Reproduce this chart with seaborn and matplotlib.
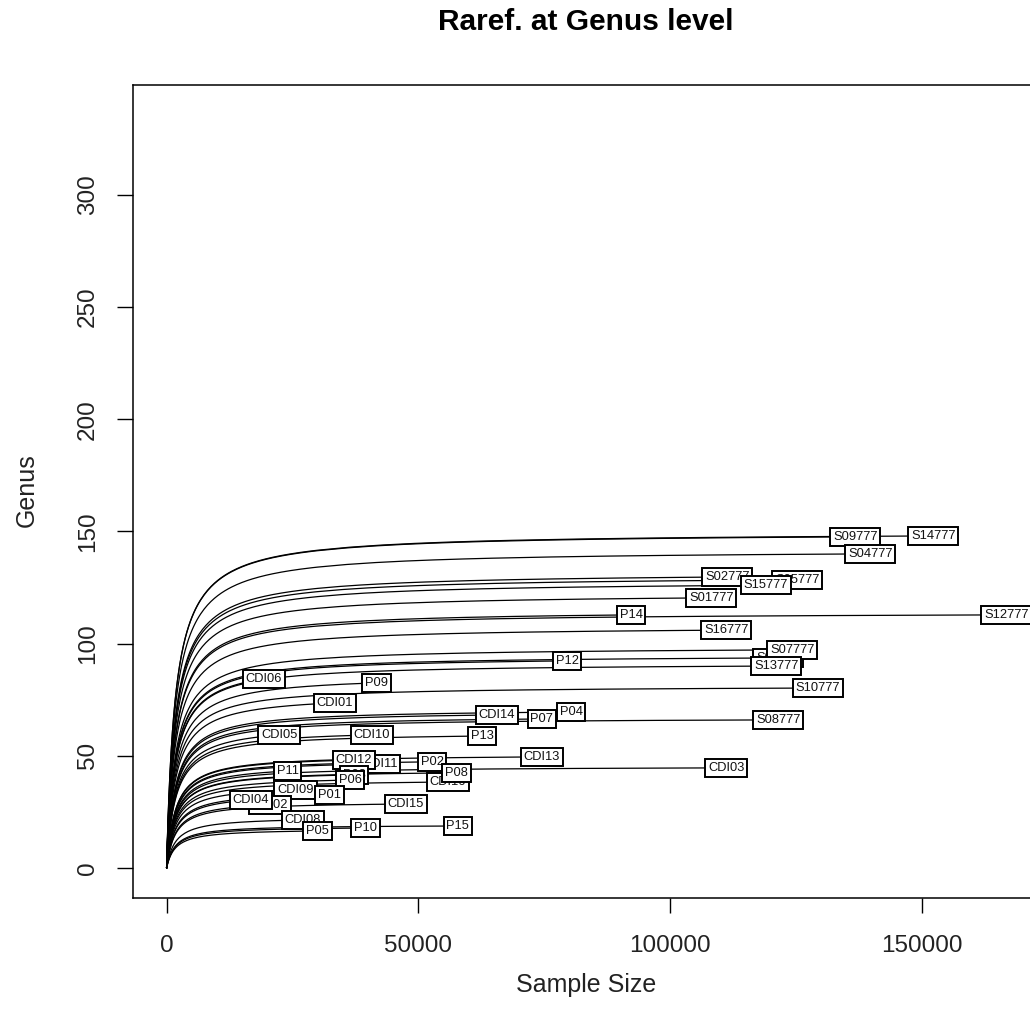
import numpy as np
import pandas as pd
import matplotlib
matplotlib.use("Agg")
import matplotlib.pyplot as plt
import seaborn as sns

samples = ["S03777", "S09777", "S14777", "S04777", "S05777", "S02777", "S15777", "S01777",
           "P14", "S12777", "S16777", "S07777", "P12", "S13777", "S10777", "S08777",
           "P07", "P04", "CDI06", "P09", "CDI01", "CDI14", "CDI05", "CDI10", "P13",
           "CDI11", "CDI12", "P02", "CDI13", "CDI16", "P08", "P03", "P11", "P06",
           "CDI09", "P01", "CDI02", "CDI04", "CDI15", "CDI08", "P05", "P10", "P15", "CDI03"]
totals = [121400, 136700, 152200, 139700, 125200, 111300, 119000, 108100,
          92200, 166700, 111100, 124200, 79500, 121000, 129300, 121400,
          74500, 80300, 19300, 41700, 33400, 65600, 22400, 40700, 62600,
          42300, 37200, 52700, 74500, 55800, 57600, 37200, 24000, 36400,
          25600, 32400, 20500, 16700, 47500, 27000, 30000, 39500, 57800, 111100]
richness = [93.6, 147.6, 148.0, 140.0, 128.4, 129.7, 126.0, 120.4,
            112.8, 112.8, 106.0, 97.2, 92.3, 90.0, 80.2, 66.0,
            66.4, 69.5, 84.3, 82.5, 73.6, 68.2, 59.3, 59.3, 58.8,
            46.4, 48.1, 47.3, 49.5, 38.3, 42.4, 41.5, 43.2, 39.2,
            34.8, 32.5, 28.1, 30.3, 28.5, 21.4, 16.5, 17.8, 18.7, 44.6]

x_ticks = [0, 50000, 100000, 150000]
y_ticks = [0, 50, 100, 150, 200, 250, 300]

# rarefaction-style curve from each end point (half-saturation sample size)
K = 1700.0
rows = []
for name, N, S in zip(samples, totals, richness):
    if N > 30000:
        n = np.concatenate([np.linspace(0, 3000, 60), np.linspace(3000, 30000, 80)[1:],
                            np.linspace(30000, N, 20)[1:]])
    else:
        n = np.concatenate([np.linspace(0, 3000, 60), np.linspace(3000, N, 80)[1:]])
    s = S * (n / (n + K)) / (N / (N + K))
    rows.append(pd.DataFrame({"sample": name, "n": n, "s": s}))
df = pd.concat(rows, ignore_index=True)

sns.set_theme(style="ticks")
plt.rcParams["font.family"] = ["Liberation Sans", "DejaVu Sans"]

fig = plt.figure(figsize=(10.30, 10.22), dpi=100)
ax = fig.add_axes([133 / 1030, 1 - 898 / 1022, (1040 - 133) / 1030, (898 - 85) / 1022])

sns.lineplot(data=df, x="n", y="s", units="sample", estimator=None,
             color="black", linewidth=0.9, ax=ax, legend=False, sort=False)

for name, N, S in zip(samples, totals, richness):
    ax.text(N, S, name, ha="center", va="center", fontsize=9.3, color="#111111",
            bbox=dict(boxstyle="square,pad=0.22", fc="white", ec="black", lw=1.4), zorder=5)

ax.set_xlim(-6668, 173368)
ax.set_ylim(-13.4, 349)
ax.set_xticks(x_ticks)
ax.set_xticklabels([str(v) for v in x_ticks])
ax.set_yticks(y_ticks)
ax.set_yticklabels([str(v) for v in y_ticks], rotation=90, va="center")
ax.tick_params(axis="x", direction="out", length=10.5, width=1, labelsize=17.5,
               color="black", labelcolor="#222222", pad=16)
ax.tick_params(axis="y", direction="out", length=11.5, width=1, labelsize=17.5,
               color="black", labelcolor="#222222", pad=13)
for sp in ax.spines.values():
    sp.set_visible(True)
    sp.set_color("black")
    sp.set_linewidth(1.1)
ax.set_xlabel("")
ax.set_ylabel("")
fig.text(586 / 1030, 1 - 985 / 1022, "Sample Size", ha="center", va="center",
         fontsize=18, color="#222222")
fig.text(27 / 1030, 1 - 490 / 1022, "Genus", ha="center", va="center", rotation=90,
         fontsize=18, color="#222222")
fig.text(586 / 1030, 1 - 22 / 1022, "Raref. at Genus level", ha="center", va="center",
         fontsize=21.5, fontweight="bold", color="black")

fig.savefig("out.png", dpi=100, facecolor="white")
